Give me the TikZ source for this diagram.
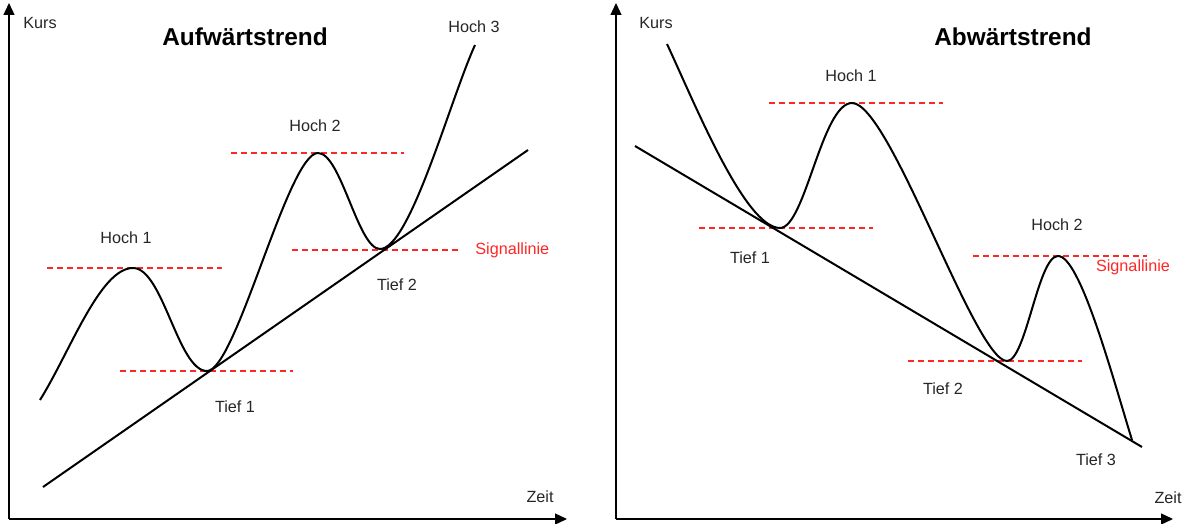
\documentclass[tikz,border=0pt]{standalone}
\usepackage{fontspec}
\setmainfont{Liberation Sans}
\usetikzlibrary{arrows.meta}
\begin{document}
\begin{tikzpicture}[x=0.5pt,y=-0.5pt,
  axis/.style={line width=0.65pt,-{Triangle[length=6pt,width=5.5pt]}},
  curve/.style={line width=1pt,line join=round},
  trend/.style={line width=1pt},
  sig/.style={red!85,line width=0.55pt,dash pattern=on 3pt off 2pt},
  lbl/.style={font=\fontsize{8.1}{9}\selectfont,text=black!85,inner sep=0pt},
  redlbl/.style={font=\fontsize{8.1}{9}\selectfont,text=red!85,inner sep=0pt},
  ttl/.style={font=\fontsize{12.2}{14}\selectfont\bfseries,inner sep=0pt}]
\useasboundingbox (0,0) rectangle (1185,524);
% ---------- left panel ----------
\coordinate (LO) at (9,519);
\coordinate (LY) at (9,3);
\coordinate (LX) at (567,519);
\draw[axis] (LO) -- (LY);
\draw[axis] (LO) -- (LX);
\node[lbl,anchor=west] (lkurs) at (23,23) {Kurs};
\node[lbl] (lzeit) at (540,497) {Zeit};
\node[ttl] (ltitle) at (245,37) {Aufwärtstrend};
% key points
\coordinate (ls) at (40,400);
\coordinate (lh1) at (133,268);
\coordinate (lt1) at (207,371);
\coordinate (lh2) at (318,153);
\coordinate (lt2) at (380,249);
\coordinate (le) at (475,45);
% dashed lines
\coordinate (ld1a) at (47,268);  \coordinate (ld1b) at (222,268);
\coordinate (ld2a) at (120,371); \coordinate (ld2b) at (293,371);
\coordinate (ld3a) at (231,153); \coordinate (ld3b) at (404,153);
\coordinate (ld4a) at (292,250); \coordinate (ld4b) at (460,250);
\draw[sig] (ld1a) -- (ld1b);
\draw[sig] (ld2a) -- (ld2b);
\draw[sig] (ld3a) -- (ld3b);
\draw[sig] (ld4a) -- (ld4b);
% trend
\coordinate (ltra) at (43,487);
\coordinate (ltrb) at (528,150);
\draw[trend] (ltra) -- (ltrb);
% curve
\draw[curve] (ls) .. controls (70,352) and (100,268) .. (lh1)
  .. controls (163,268) and (178,371) .. (lt1)
  .. controls (236,371) and (288,153) .. (lh2)
  .. controls (341,153) and (358,249) .. (lt2)
  .. controls (410,249) and (450,100) .. (le);
\node[lbl] (lhoch1) at (126,238) {Hoch 1};
\node[lbl] (lhoch2) at (315,126) {Hoch 2};
\node[lbl] (lhoch3) at (474,27) {Hoch 3};
\node[lbl] (ltief1) at (235,407) {Tief 1};
\node[lbl] (ltief2) at (397,285) {Tief 2};
\node[redlbl,anchor=west] (lsig) at (475,250) {Signallinie};
% ---------- right panel ----------
\coordinate (RO) at (616,519);
\coordinate (RY) at (616,3);
\coordinate (RX) at (1173,519);
\draw[axis] (RO) -- (RY);
\draw[axis] (RO) -- (RX);
\node[lbl,anchor=west] (rkurs) at (639,23) {Kurs};
\node[lbl] (rzeit) at (1168,498) {Zeit};
\node[ttl] (rtitle) at (1013,37) {Abwärtstrend};
\coordinate (rs) at (667,44);
\coordinate (rt1) at (780,228);
\coordinate (rh1) at (852,103);
\coordinate (rt2) at (1007,361);
\coordinate (rh2) at (1058,256);
\coordinate (re) at (1132,440);
\coordinate (rd1a) at (769,103);  \coordinate (rd1b) at (943,103);
\coordinate (rd2a) at (699,228);  \coordinate (rd2b) at (873,228);
\coordinate (rd3a) at (908,361);  \coordinate (rd3b) at (1082,361);
\coordinate (rd4a) at (973,256);  \coordinate (rd4b) at (1147,256);
\draw[sig] (rd1a) -- (rd1b);
\draw[sig] (rd2a) -- (rd2b);
\draw[sig] (rd3a) -- (rd3b);
\draw[sig] (rd4a) -- (rd4b);
\coordinate (rtra) at (635,146);
\coordinate (rtrb) at (1142,447);
\draw[trend] (rtra) -- (rtrb);
\draw[curve] (rs) .. controls (695,104) and (745,228) .. (rt1)
  .. controls (805,228) and (822,103) .. (rh1)
  .. controls (890,103) and (975,361) .. (rt2)
  .. controls (1026,361) and (1038,256) .. (rh2)
  .. controls (1080,256) and (1112,375) .. (re);
\node[lbl] (rhoch1) at (851,76) {Hoch 1};
\node[lbl] (rhoch2) at (1057,225) {Hoch 2};
\node[lbl] (rtief1) at (750,258) {Tief 1};
\node[lbl] (rtief2) at (943,389) {Tief 2};
\node[lbl] (rtief3) at (1096,460) {Tief 3};
\node[redlbl] (rsig) at (1133,267) {Signallinie};
\end{tikzpicture}
\end{document}
